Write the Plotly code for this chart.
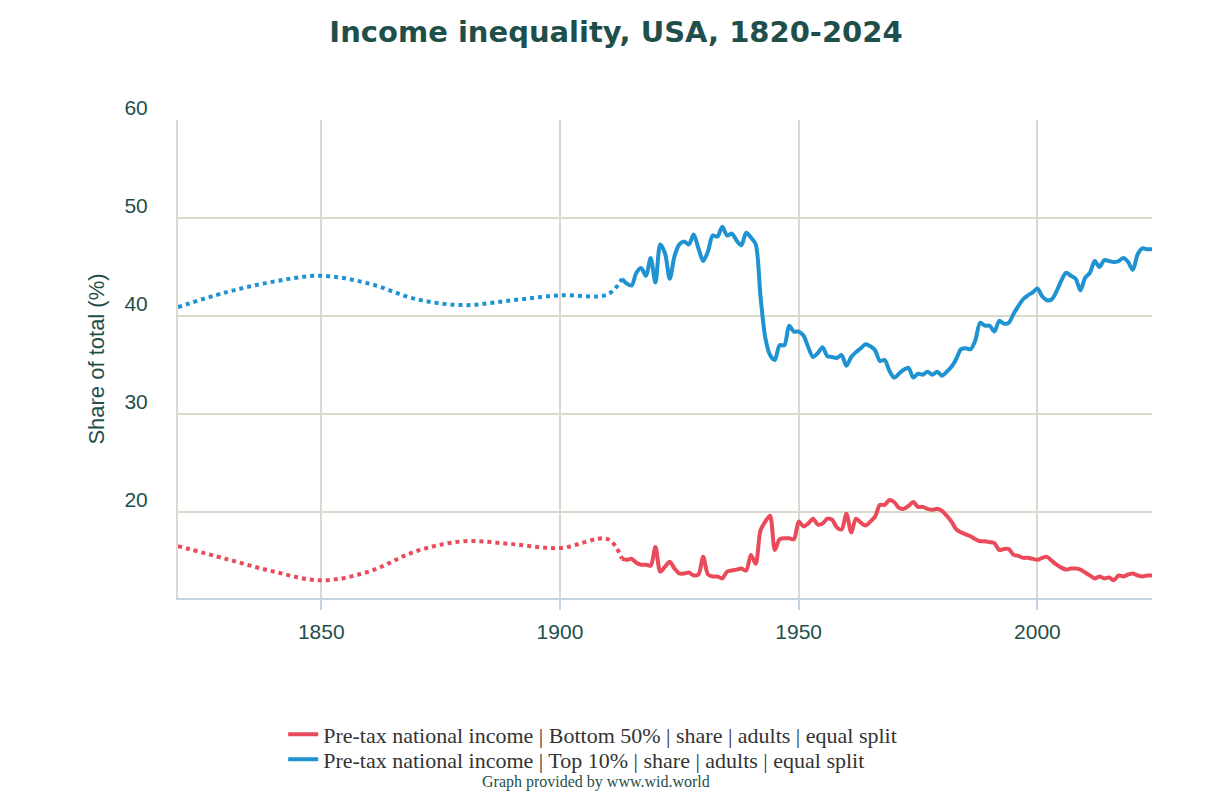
import plotly.graph_objects as go

# ─── Data (share of pre-tax national income, %) ─────────────
YEARS_EARLY = [1820, 1830, 1840, 1850, 1860, 1870, 1880, 1890, 1900, 1910, 1913]
TOP10_EARLY = [40.9, 42.4, 43.5, 44.1, 43.3, 41.7, 41.1, 41.6, 42.1, 42.2, 43.8]
BOTTOM50_EARLY = [16.5, 15.2, 13.9, 13.0, 13.9, 16.0, 17.0, 16.7, 16.3, 17.2, 15.2]

YEARS = list(range(1913, 2025))
TOP10 = [
    43.8, 43.3, 43.1, 44.4, 44.9, 44.1, 45.9, 43.4, 47.3, 46.4,   # 1913-1922
    43.8, 46.1, 47.3, 47.6, 47.3, 48.3, 46.9, 45.6, 46.6, 48.2,   # 1923-1932
    48.1, 49.1, 48.2, 48.4, 47.7, 47.2, 48.5, 48.0, 47.3, 42.0,   # 1933-1942
    37.8, 36.0, 35.5, 37.0, 37.0, 39.0, 38.4, 38.4, 38.0, 36.8,   # 1943-1952
    35.8, 36.2, 36.8, 35.9, 35.8, 35.7, 36.0, 34.9, 35.8, 36.3,   # 1953-1962
    36.7, 37.1, 36.9, 36.5, 35.4, 35.5, 34.4, 33.7, 34.1, 34.5,   # 1963-1972
    34.7, 33.7, 34.1, 34.0, 34.3, 34.0, 34.3, 33.9, 34.3, 34.8,   # 1973-1982
    35.6, 36.6, 36.7, 36.6, 37.5, 39.3, 39.0, 39.0, 38.4, 39.5,   # 1983-1992
    39.2, 39.3, 40.2, 41.0, 41.7, 42.1, 42.4, 42.8, 42.0, 41.6,   # 1993-2002
    41.7, 42.5, 43.6, 44.4, 44.1, 43.8, 42.6, 43.9, 44.4, 45.6,   # 2003-2012
    45.0, 45.7, 45.6, 45.5, 45.6, 45.9, 45.5, 44.7, 46.3, 46.9,   # 2013-2022
    46.8, 46.8,                                                   # 2023-2024
]
BOTTOM50 = [
    15.2, 15.1, 15.2, 14.8, 14.6, 14.6, 14.5, 16.4, 13.9, 14.4,   # 1913-1922
    14.9, 14.2, 13.7, 13.7, 13.8, 13.5, 13.6, 15.4, 13.6, 13.4,   # 1923-1932
    13.4, 13.2, 13.9, 14.0, 14.1, 14.2, 14.0, 15.6, 14.7, 18.1,   # 1933-1942
    19.0, 19.6, 16.1, 17.2, 17.3, 17.3, 17.2, 19.0, 18.5, 18.8,   # 1943-1952
    19.3, 18.7, 18.8, 19.3, 19.2, 18.4, 18.2, 19.8, 17.9, 19.3,   # 1953-1962
    18.9, 18.6, 19.0, 19.5, 20.7, 20.7, 21.2, 21.0, 20.4, 20.3,   # 1963-1972
    20.6, 21.0, 20.5, 20.5, 20.3, 20.2, 20.3, 20.1, 19.6, 19.0,   # 1973-1982
    18.2, 17.9, 17.7, 17.5, 17.2, 17.0, 17.0, 16.9, 16.8, 16.1,   # 1983-1992
    16.2, 16.2, 15.6, 15.5, 15.3, 15.3, 15.2, 15.1, 15.3, 15.4,   # 1993-2002
    15.0, 14.6, 14.3, 14.1, 14.2, 14.2, 14.1, 13.8, 13.5, 13.2,   # 2003-2012
    13.4, 13.2, 13.3, 13.0, 13.5, 13.4, 13.6, 13.7, 13.5, 13.4,   # 2013-2022
    13.5, 13.5,                                                   # 2023-2024
]

X_TICKS = [1850, 1900, 1950, 2000]
Y_TICKS = [20, 30, 40, 50, 60]

NAME_B50 = "Pre-tax national income | Bottom 50% | share | adults | equal split"
NAME_T10 = "Pre-tax national income | Top 10% | share | adults | equal split"

# ─── Colors ─────────────────────────────────────────────────
RED = "#ea4b5a"
BLUE = "#1f92d1"
TEAL = "#1f4f4a"
GRID = "#d9d9cc"
AXIS = "#c6d3e3"

LEGEND_FONT = dict(family="Liberation Serif", size=22, color="#333333")

fig = go.Figure()

# early (dotted) estimates
fig.add_trace(go.Scatter(
    x=YEARS_EARLY, y=BOTTOM50_EARLY, mode="lines",
    line=dict(color=RED, width=4, dash="dot", shape="spline"),
    showlegend=False, hoverinfo="skip",
))
fig.add_trace(go.Scatter(
    x=YEARS_EARLY, y=TOP10_EARLY, mode="lines",
    line=dict(color=BLUE, width=4, dash="dot", shape="spline"),
    showlegend=False, hoverinfo="skip",
))

# annual series, one legend box each so the rows sit close together
fig.add_trace(go.Scatter(
    x=YEARS, y=BOTTOM50, mode="lines", name=NAME_B50, legend="legend",
    line=dict(color=RED, width=4, shape="spline", smoothing=0.8),
))
fig.add_trace(go.Scatter(
    x=YEARS, y=TOP10, mode="lines", name=NAME_T10, legend="legend2",
    line=dict(color=BLUE, width=4, shape="spline", smoothing=0.8),
))

fig.add_annotation(
    x=0.429, y=-0.385, xref="paper", yref="paper", yanchor="middle",
    text="Graph provided by www.wid.world", showarrow=False,
    font=dict(family="Liberation Serif", size=16, color=TEAL),
)

fig.update_layout(
    width=1216, height=784,
    paper_bgcolor="white", plot_bgcolor="white",
    margin=dict(l=170, r=72, t=112, b=192),
    title=dict(
        text="<b>Income inequality, USA, 1820-2024</b>",
        x=0.5, xref="container", xanchor="center",
        y=0.969, yref="container", yanchor="middle",
        font=dict(family="DejaVu Sans", size=29, color=TEAL),
    ),
    xaxis=dict(
        range=[1820, 2024], tickvals=X_TICKS,
        showgrid=True, gridcolor=GRID, gridwidth=2,
        zeroline=False, showline=True, linecolor=AXIS, linewidth=2,
        ticks="outside", ticklen=10, tickwidth=2, tickcolor=AXIS,
        ticklabelstandoff=4,
        tickfont=dict(family="Liberation Sans", size=21, color=TEAL),
    ),
    yaxis=dict(
        range=[11.2, 60], tickvals=Y_TICKS,
        showgrid=True, gridcolor=GRID, gridwidth=2,
        zeroline=False, showline=True, linecolor=GRID, linewidth=2,
        ticks="", ticklabelstandoff=24, ticklabelshift=-12,
        tickfont=dict(family="Liberation Sans", size=21, color=TEAL),
        title=dict(text="Share of total (%)", standoff=14,
                   font=dict(family="Liberation Sans", size=22, color=TEAL)),
    ),
    legend=dict(
        x=0.108, xanchor="left", y=-0.2854, yanchor="middle",
        font=LEGEND_FONT, itemwidth=30, bgcolor="rgba(0,0,0,0)",
    ),
    legend2=dict(
        x=0.108, xanchor="left", y=-0.3375, yanchor="middle",
        font=LEGEND_FONT, itemwidth=30, bgcolor="rgba(0,0,0,0)",
    ),
    showlegend=True,
)

fig.write_html("out.html")
